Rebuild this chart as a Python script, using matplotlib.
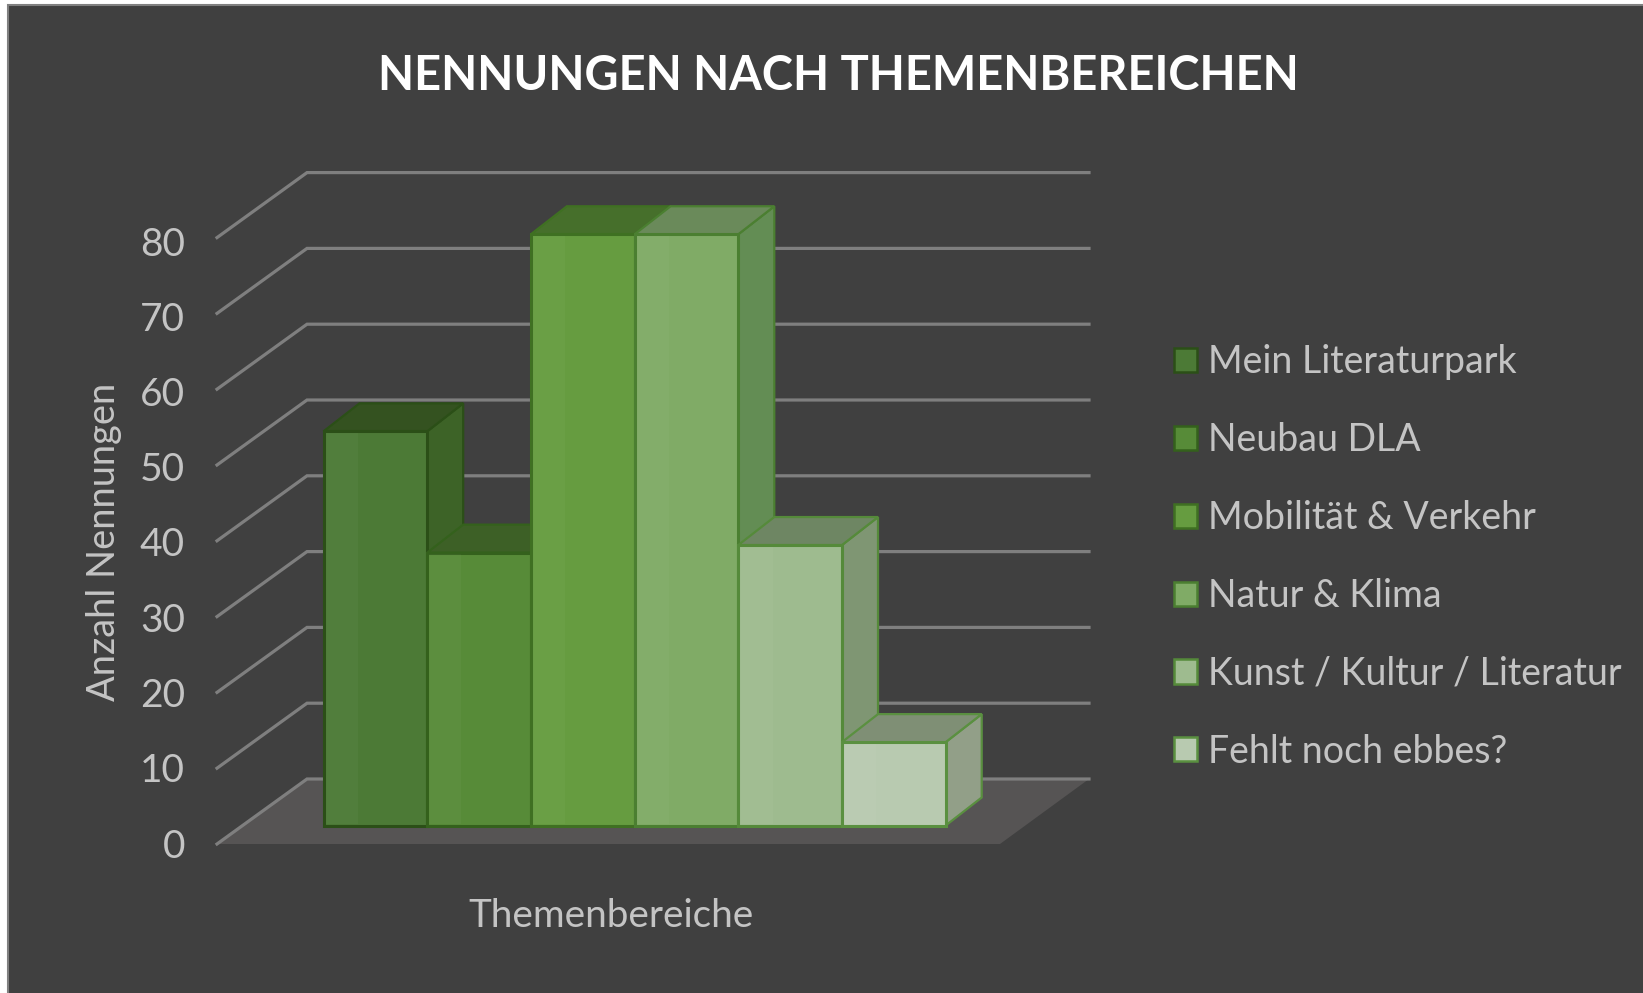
import matplotlib
matplotlib.use('Agg')
import matplotlib.pyplot as plt
from matplotlib.patches import Polygon, Rectangle, Patch

categories = ['Mein Literaturpark', 'Neubau DLA', 'Mobilität & Verkehr',
              'Natur & Klima', 'Kunst / Kultur / Literatur', 'Fehlt noch ebbes?']
values = [52, 36, 78, 78, 37, 11]
y_ticks = [0, 10, 20, 30, 40, 50, 60, 70, 80]

front_colors = ['#4c7a36', '#578b38', '#669c40', '#80ab66', '#9ebb8f', '#b8cab0']
side_colors = ['#3d6327', '#4a7530', '#54823a', '#638d54', '#7f9673', '#929f88']
top_colors = ['#345220', '#3d6026', '#466f2b', '#6a8a5a', '#6e8663', '#7f8f75']
edge_colors = ['#2b4f17', '#34611c', '#3f7022', '#4b7f31', '#558a3a', '#5a9040']

W, H = 1643, 993
BG = '#404040'
GRID = '#7f7f7f'
TXT = '#c4c4c4'
FONT = ['Lato', 'DejaVu Sans']

# pixel size of one category / one value unit, and where the bars sit
PX_X = 103.7
PX_Y = 7.58
X0 = 323.5
Y0 = 825.5

plt.rcParams['font.family'] = FONT
fig = plt.figure(figsize=(W / 100, H / 100), dpi=100, facecolor='white')

# chart area with thin border
fig.patches.append(Rectangle((8 / W, -0.01), 1 - 8 / W + 0.01, 1.01 - 5 / H, transform=fig.transFigure,
                             facecolor=BG, edgecolor='#808080', linewidth=1.5, zorder=-5))

ax = fig.add_axes([0, 0, 1, 1])
ax.patch.set_alpha(0)
ax.set_xlim(-X0 / PX_X, (W - X0) / PX_X)
ax.set_ylim((Y0 - H) / PX_Y, Y0 / PX_Y)
ax.axis('off')

# depth of the bars and of the walls, in data units
bar_dx = 36 / PX_X
bar_dy = 28 / PX_Y
wall_x0 = (217 - X0) / PX_X
wall_x1 = (307 - X0) / PX_X
wall_x2 = (1089 - X0) / PX_X
floor_x3 = (1000 - X0) / PX_X
wall_y_front = (Y0 - 844) / PX_Y
wall_y_back = (Y0 - 779) / PX_Y

ax.add_patch(Polygon([(wall_x0, wall_y_front), (wall_x1, wall_y_back), (wall_x2, wall_y_back),
                      (floor_x3, wall_y_front)], closed=True, facecolor='#565454', edgecolor='none', zorder=1))

for v in y_ticks:
    ax.plot([wall_x0, wall_x1, wall_x2], [wall_y_front + v, wall_y_back + v, wall_y_back + v],
            color=GRID, lw=2.3, zorder=2, solid_joinstyle='miter')

z = 3
for i, v in enumerate(values):
    # side and top first, next bar's front covers them
    ax.add_patch(Polygon([(i + 1, 0), (i + 1 + bar_dx, bar_dy), (i + 1 + bar_dx, v + bar_dy), (i + 1, v)],
                         closed=True, facecolor=side_colors[i], edgecolor=edge_colors[i], lw=1.6, zorder=z))
    ax.add_patch(Polygon([(i, v), (i + bar_dx, v + bar_dy), (i + 1 + bar_dx, v + bar_dy), (i + 1, v)],
                         closed=True, facecolor=top_colors[i], edgecolor=edge_colors[i], lw=1.6, zorder=z))
    ax.bar(i, v, width=1, align='edge', color=front_colors[i], edgecolor=edge_colors[i], lw=2.2, zorder=z + 1)
    ax.bar(i + 0.02, v - 0.4, width=0.31, bottom=0.2, align='edge', color='white', alpha=0.03, lw=0, zorder=z + 1)
    z += 2

# axis on the front edge of the wall, only carries labels
ax_t = fig.add_axes([217 / W, (H - 843) / H, 872 / W, 602 / H])
ax_t.patch.set_alpha(0)
ax_t.set_ylim(0, 80)
ax_t.set_yticks(y_ticks)
ax_t.set_xticks([])
ax_t.tick_params(axis='y', length=0, pad=23, labelsize=28, labelcolor=TXT)
for s in ax_t.spines.values():
    s.set_visible(False)
ax_t.set_ylabel('Anzahl Nennungen', fontsize=27.4, color=TXT, va='center')
ax_t.yaxis.set_label_coords((104 - 217) / 872, (843 - 542) / 602)
ax_t.set_xlabel('Themenbereiche', fontsize=27.8, color=TXT, va='center')
ax_t.xaxis.set_label_coords((611 - 217) / 872, (843 - 916) / 602)

fig.text(838 / W, 1 - 76 / H, 'NENNUNGEN NACH THEMENBEREICHEN', fontsize=33.8, fontweight='bold', color='white',
         ha='center', va='center', family=['Lato', 'Liberation Sans'])

handles = [Patch(facecolor=front_colors[i], edgecolor=edge_colors[i], lw=1.8) for i in range(len(categories))]
fig.legend(handles, categories, loc='center left', bbox_to_anchor=(1174 / W, 1 - 557 / H), frameon=False,
           fontsize=27, labelcolor=TXT, handlelength=0.62, handleheight=0.62, handletextpad=0.3,
           labelspacing=1.115, borderpad=0, borderaxespad=0)

fig.savefig('out.png', dpi=100, facecolor=fig.get_facecolor())
